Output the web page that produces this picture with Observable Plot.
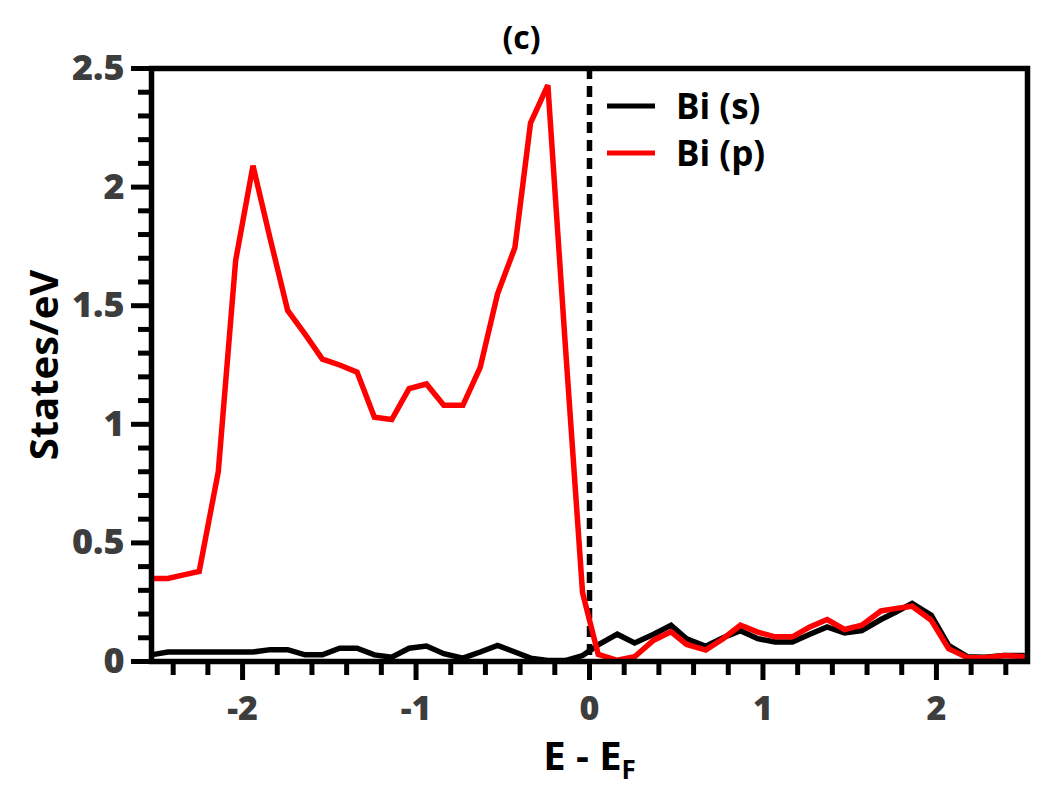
<!DOCTYPE html>
<html><head><meta charset="utf-8">
<script src="https://cdn.jsdelivr.net/npm/d3@7"></script>
<script src="https://cdn.jsdelivr.net/npm/@observablehq/plot@0.6"></script>
<style>
body{margin:0;background:#fff;}
#wrap{position:relative;width:1042px;height:792px;font-family:"Open Sans",sans-serif;}
#legend{position:absolute;left:607px;top:82px;}
.row{display:flex;align-items:center;height:47px;}
.row svg{width:48px;height:10px;margin-right:21px;}
.row span{font-size:35px;font-weight:700;color:#000;line-height:47px;}
</style></head><body><div id="wrap"></div>
<script>
const energy = [-2.51, -2.43, -2.34, -2.25, -2.14, -2.04, -1.94, -1.84, -1.74, -1.64, -1.54, -1.44, -1.34, -1.24, -1.14, -1.04, -0.94, -0.84, -0.73, -0.63, -0.53, -0.43, -0.34, -0.24, -0.14, -0.04, 0.05, 0.16, 0.26, 0.37, 0.47, 0.56, 0.67, 0.77, 0.87, 0.97, 1.07, 1.17, 1.27, 1.37, 1.47, 1.57, 1.68, 1.77, 1.86, 1.97, 2.07, 2.18, 2.28, 2.39, 2.50];
const biS = [0.03, 0.04, 0.04, 0.04, 0.04, 0.04, 0.04, 0.05, 0.05, 0.028, 0.028, 0.056, 0.056, 0.028, 0.018, 0.056, 0.065, 0.033, 0.014, 0.04, 0.068, 0.04, 0.014, 0.004, 0.004, 0.025, 0.07, 0.115, 0.078, 0.115, 0.153, 0.096, 0.064, 0.1, 0.13, 0.096, 0.082, 0.082, 0.115, 0.146, 0.12, 0.13, 0.177, 0.21, 0.245, 0.195, 0.068, 0.02, 0.018, 0.025, 0.025];
const biP = [0.35, 0.35, 0.365, 0.38, 0.80, 1.69, 2.09, 1.78, 1.48, 1.38, 1.275, 1.25, 1.22, 1.03, 1.02, 1.15, 1.17, 1.08, 1.08, 1.24, 1.55, 1.745, 2.27, 2.43, 1.34, 0.29, 0.03, 0.005, 0.02, 0.09, 0.125, 0.072, 0.048, 0.096, 0.153, 0.124, 0.104, 0.104, 0.146, 0.177, 0.135, 0.153, 0.213, 0.224, 0.233, 0.174, 0.054, 0.016, 0.016, 0.025, 0.021];
const seriesNames = ["Bi (s)", "Bi (p)"];
const seriesColors = ["black", "red"];
const xTicks = [-2, -1, 0, 1, 2];
const xMinorTicks = [-2.4, -2.2, -1.8, -1.6, -1.4, -1.2, -0.8, -0.6, -0.4, -0.2, 0.2, 0.4, 0.6, 0.8, 1.2, 1.4, 1.6, 1.8, 2.2, 2.4];
const yTicks = [0, 0.5, 1, 1.5, 2, 2.5];
const yMinorTicks = [0.1, 0.2, 0.3, 0.4, 0.6, 0.7, 0.8, 0.9, 1.1, 1.2, 1.3, 1.4, 1.6, 1.7, 1.8, 1.9, 2.1, 2.2, 2.3, 2.4];
const fermi = [0];
const title = "(c)";
const xLabel = "E - E_F";
const yLabel = "States/eV";

const rows = [];
[biS, biP].forEach((vals, s) => energy.forEach((e, i) => rows.push({E: e, v: vals[i], series: seriesNames[s]})));

const tickColor = "#3d3d3d";
const plot = Plot.plot({
  width: 1042, height: 792,
  marginLeft: 151, marginRight: 15, marginTop: 68, marginBottom: 131,
  style: {fontFamily: "Open Sans", background: "white", overflow: "visible"},
  x: {domain: [-2.525, 2.525], label: null},
  y: {domain: [0, 2.5], label: null},
  color: {domain: seriesNames, range: seriesColors},
  marks: [
    Plot.axisX(xMinorTicks, {tickSize: 14, strokeWidth: 5, tickFormat: () => "", label: null}),
    Plot.axisX(xTicks, {tickSize: 19, strokeWidth: 5, tickPadding: 15, fontSize: 34, fontWeight: 800, fill: tickColor, label: null, tickFormat: d => String(d)}),
    Plot.axisY(yMinorTicks, {tickSize: 13, strokeWidth: 5, tickFormat: () => "", label: null}),
    Plot.axisY(yTicks, {tickSize: 20, strokeWidth: 5, tickPadding: 7, fontSize: 36, fontWeight: 800, fill: tickColor, label: null, tickFormat: d => String(d)}),
    Plot.ruleX(fermi, {stroke: "black", strokeWidth: 5.5, strokeDasharray: "11,7"}),
    Plot.line(rows, {x: "E", y: "v", z: "series", stroke: "series", strokeWidth: 5.5, strokeLinejoin: "miter", strokeMiterlimit: 3}),
    Plot.frame({stroke: "black", strokeWidth: 5.5}),
    Plot.text([title], {frameAnchor: "top", dx: -68, dy: -30, fontSize: 32, fontWeight: 700, fill: "black", lineAnchor: "middle"}),
    Plot.text([yLabel], {frameAnchor: "left", textAnchor: "middle", dx: -106, rotate: -90, fontSize: 40, fontWeight: 700, fill: "black", lineAnchor: "middle"}),
    Plot.text([xLabel], {frameAnchor: "bottom", dy: 96, fontSize: 40, fontWeight: 700, fill: "black", lineAnchor: "middle"})
  ]
});

for (const t of plot.querySelectorAll("text")) {
  if (t.textContent === xLabel) {
    t.textContent = "E - E";
    const ts = document.createElementNS("http://www.w3.org/2000/svg", "tspan");
    ts.textContent = "F";
    ts.setAttribute("font-size", "26");
    ts.setAttribute("dy", "9");
    t.appendChild(ts);
  }
}

const wrap = document.getElementById("wrap");
wrap.appendChild(plot);
const legend = document.createElement("div");
legend.id = "legend";
seriesNames.forEach((n, i) => {
  const r = document.createElement("div");
  r.className = "row";
  r.innerHTML = `<svg viewBox="0 0 48 10"><line x1="0" x2="48" y1="5" y2="5" stroke="${seriesColors[i]}" stroke-width="5"/></svg><span>${n}</span>`;
  legend.appendChild(r);
});
wrap.appendChild(legend);
</script></body></html>
